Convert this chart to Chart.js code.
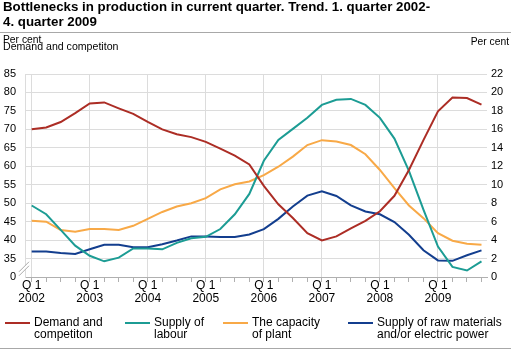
<!DOCTYPE html>
<html>
<head>
<meta charset="utf-8">
<script src="https://cdn.jsdelivr.net/npm/chart.js@4.4.1/dist/chart.umd.min.js"></script>
<style>
    body { margin: 0; width: 511px; height: 350px; overflow: hidden; background: #fff;
           font-family: "Liberation Sans", Arial, sans-serif; color: #000; position: relative; }
    #wrap { position: absolute; left: 0; top: 0; width: 511px; height: 350px; }
    #title { position: absolute; left: 3px; top: -1px; font-weight: bold; font-size: 13.3px; line-height: 15px; }
    .rule { position: absolute; left: 0; width: 511px; height: 1px; background: #a8a8a8; }
    .axis-title { position: absolute; line-height: 1; white-space: nowrap; }
    .legend-item { position: absolute; top: 316px; font-size: 12px; line-height: 12px; padding-left: 29px; }
    .legend-item i { position: absolute; left: 0; top: 6px; width: 25px; height: 2px; }
</style>
</head>
<body>
<div id="wrap"><canvas id="bottleneckChart"></canvas></div>
<div id="title">Bottlenecks in production in current quarter. Trend. 1. quarter 2002-<br>4. quarter 2009</div>
<div class="rule" style="top:32px"></div>
<div class="axis-title" style="left:3px; top:34.5px; font-size:10.3px">Per cent</div>
<div class="axis-title" style="left:3px; top:41px; font-size:10.6px">Demand and competiton</div>
<div class="axis-title" style="right:2px; top:37px; font-size:10.3px">Per cent</div>
<div id="legend"></div>
<div class="rule" style="top:348px"></div>

<script>
// Bottlenecks in production - quarterly trend, 2002-2009

const QUARTERS = [
    '2002Q1', '2002Q2', '2002Q3', '2002Q4', '2003Q1', '2003Q2', '2003Q3', '2003Q4',
    '2004Q1', '2004Q2', '2004Q3', '2004Q4', '2005Q1', '2005Q2', '2005Q3', '2005Q4',
    '2006Q1', '2006Q2', '2006Q3', '2006Q4', '2007Q1', '2007Q2', '2007Q3', '2007Q4',
    '2008Q1', '2008Q2', '2008Q3', '2008Q4', '2009Q1', '2009Q2', '2009Q3', '2009Q4'
];

// left axis (per cent, 30-85, shown with a break)
const DEMAND = [70.0, 70.5, 72.0, 74.4, 77.0, 77.3, 75.7, 74.2, 72.0, 70.0, 68.7, 67.9, 66.6, 64.8, 62.9, 60.5,
                54.7, 49.7, 46.0, 41.9, 39.9, 41.0, 43.2, 45.2, 47.8, 52.0, 59.0, 67.1, 74.9, 78.6, 78.5, 76.7];

// right axis (per cent, 0-22)
const LABOUR = [7.75, 6.8, 5.1, 3.4, 2.3, 1.7, 2.1, 3.1, 3.1, 3.0, 3.7, 4.2, 4.35, 5.2, 6.8, 9.0,
                12.6, 14.85, 16.05, 17.25, 18.65, 19.2, 19.3, 18.65, 17.25, 15.0, 11.5, 7.3, 3.3, 1.1, 0.7, 1.7];
const CAPACITY = [6.1, 6.0, 5.1, 4.9, 5.2, 5.2, 5.1, 5.55, 6.3, 7.05, 7.64, 8.0, 8.55, 9.5, 10.05, 10.35,
                  11.05, 11.95, 13.05, 14.3, 14.83, 14.68, 14.3, 13.3, 11.6, 9.63, 7.75, 6.38, 4.76, 3.93, 3.6, 3.5];
const RAW = [2.77, 2.77, 2.6, 2.49, 3.0, 3.5, 3.5, 3.22, 3.22, 3.55, 3.95, 4.4, 4.4, 4.33, 4.33, 4.6,
             5.19, 6.3, 7.64, 8.82, 9.3, 8.78, 7.77, 7.1, 6.8, 5.96, 4.58, 2.9, 1.8, 1.75, 2.35, 2.88];

const LEGEND_LABELS = [
    ['Demand and', 'competiton'],
    ['Supply of', 'labour'],
    ['The capacity', 'of plant'],
    ['Supply of raw materials', 'and/or electric power']
];

const COLORS = {
    demand: '#AC2D25',
    labour: '#1C9C94',
    capacity: '#F8A947',
    raw: '#133E8E',
    grid: '#dcdcdc',
    axis: '#b0b0b0'
};

Chart.defaults.font.family = '"Liberation Sans", Arial, sans-serif';
Chart.defaults.color = '#000';

// x = quarter index, so the first and last points sit a little inside the frame
const toPoints = arr => arr.map((v, i) => ({ x: i, y: v }));

// draws the "//" axis break between 0 and 35 on the left axis
const axisBreak = {
    id: 'axisBreak',
    afterDraw(chart) {
        const y = chart.scales.y;
        const ctx = chart.ctx;
        const left = chart.chartArea.left;
        const mid = (y.getPixelForValue(30) + y.getPixelForValue(35)) / 2 + 1;
        ctx.save();
        ctx.fillStyle = '#fff';
        ctx.beginPath();
        ctx.moveTo(left - 6, mid + 3);
        ctx.lineTo(left + 4, mid - 7);
        ctx.lineTo(left + 4, mid - 3);
        ctx.lineTo(left - 6, mid + 7);
        ctx.closePath();
        ctx.fill();
        ctx.strokeStyle = '#aaa';
        ctx.lineWidth = 1;
        [0, 4].forEach(d => {
            ctx.beginPath();
            ctx.moveTo(left - 6, mid + 3 + d);
            ctx.lineTo(left + 4, mid - 7 + d);
            ctx.stroke();
        });
        ctx.restore();
    }
};

function line(label, data, color, axis) {
    return {
        label: label,
        data: toPoints(data),
        yAxisID: axis,
        borderColor: color,
        backgroundColor: color,
        borderWidth: 2,
        pointRadius: 0,
        tension: 0,
        fill: false
    };
}

const ctx = document.getElementById('bottleneckChart');

window.bottleneckChart = new Chart(ctx, {
    type: 'line',
    data: {
        datasets: [
            line(LEGEND_LABELS[0].join(' '), DEMAND, COLORS.demand, 'y'),
            line(LEGEND_LABELS[1].join(' '), LABOUR, COLORS.labour, 'y1'),
            line(LEGEND_LABELS[2].join(' '), CAPACITY, COLORS.capacity, 'y1'),
            line(LEGEND_LABELS[3].join(' '), RAW, COLORS.raw, 'y1')
        ]
    },
    options: {
        responsive: true,
        maintainAspectRatio: false,
        animation: false,
        layout: { padding: { top: 74, left: 0, right: 0, bottom: 0 } },
        plugins: { legend: { display: false }, tooltip: { enabled: false } },
        scales: {
            x: {
                type: 'linear',
                min: -0.46,
                max: 31.38,
                afterBuildTicks: s => { s.ticks = QUARTERS.map((q, i) => ({ value: i })); },
                afterFit: s => { s.height = 73; },
                grid: {
                    color: c => (c.tick && c.tick.value % 4 === 0) ? COLORS.grid : 'rgba(0,0,0,0)',
                    tickColor: COLORS.axis,
                    tickLength: 5
                },
                border: { display: true, color: COLORS.axis },
                ticks: {
                    autoSkip: false,
                    maxRotation: 0,
                    padding: -3,
                    font: { size: 12, lineHeight: 1.08 },
                    callback: v => {
                        const q = QUARTERS[v];
                        return q && q.endsWith('Q1') ? ['Q 1', q.slice(0, 4)] : '';
                    }
                }
            },
            y: {
                position: 'left',
                min: 30,
                max: 85,
                afterFit: s => { s.width = 25; },
                grid: { color: COLORS.grid, drawTicks: false },
                border: { display: true, color: COLORS.grid },
                ticks: {
                    stepSize: 5,
                    padding: 9,
                    font: { size: 11 },
                    callback: v => v === 30 ? '0' : v
                }
            },
            y1: {
                position: 'right',
                min: 0,
                max: 22,
                afterFit: s => { s.width = 24; },
                grid: { drawOnChartArea: false, drawTicks: false },
                border: { display: false },
                ticks: { stepSize: 2, padding: 4, font: { size: 11 } }
            }
        }
    },
    plugins: [axisBreak]
});

// legend below the plot, two-line labels
const legendX = [5, 125, 223, 348];
const legendColors = [COLORS.demand, COLORS.labour, COLORS.capacity, COLORS.raw];
const legendEl = document.getElementById('legend');
LEGEND_LABELS.forEach((lines, i) => {
    const item = document.createElement('div');
    item.className = 'legend-item';
    item.style.left = legendX[i] + 'px';
    item.innerHTML = '<i style="background:' + legendColors[i] + '"></i>' + lines.join('<br>');
    legendEl.appendChild(item);
});
</script>
</body>
</html>
